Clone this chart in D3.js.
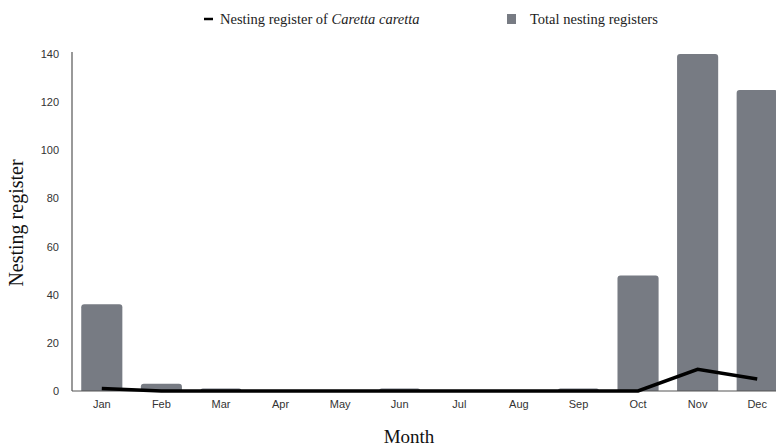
<!DOCTYPE html>
<html><head><meta charset="utf-8">
<script src="https://cdn.jsdelivr.net/npm/d3@7"></script>
<style>body{margin:0;background:#fff}svg{display:block}</style>
</head><body><svg id="c" width="776" height="447"></svg>
<script>
const months = ["Jan","Feb","Mar","Apr","May","Jun","Jul","Aug","Sep","Oct","Nov","Dec"];
const totalRegisters = [36,3,1,0,0,1,0,0,1,48,140,125];
const carettaRegisters = [1,0,0,0,0,0,0,0,0,0,9,5];
const yTicks = [0,20,40,60,80,100,120,140];

const svg = d3.select("#c");
const x = d3.scaleBand().domain(months).range([72, 787]).paddingInner(0.31).paddingOuter(0.155);
const y = d3.scaleLinear().domain([0,140]).range([391, 54]);

// bars with rounded top corners
function barPath(x0, y0, w, h, r) {
  r = Math.min(r, h, w/2);
  return `M${x0},${y0+h}V${y0+r}Q${x0},${y0} ${x0+r},${y0}H${x0+w-r}Q${x0+w},${y0} ${x0+w},${y0+r}V${y0+h}Z`;
}
svg.append("g").selectAll("path").data(months.map((m,i)=>({m, v: totalRegisters[i]})).filter(d=>d.v>0))
  .join("path")
  .attr("d", d => barPath(x(d.m), y(d.v), x.bandwidth(), y(0)-y(d.v), 3))
  .attr("fill", "#777b83");

// axes
const yAxis = d3.axisLeft(y).tickValues(yTicks).tickSize(0).tickPadding(13);
const gy = svg.append("g").attr("transform","translate(72,0)").call(yAxis);
gy.select(".domain").attr("d","M0,391V52").attr("stroke","#555").attr("stroke-width",1.2);
gy.selectAll("text").attr("font-family","Liberation Sans, Arial, sans-serif").attr("font-size",11).attr("fill","#333");

const xAxis = d3.axisBottom(x).tickSize(0).tickPadding(9);
const gx = svg.append("g").attr("transform","translate(0,391)").call(xAxis);
gx.select(".domain").attr("d","M72,0H776").attr("stroke","#555").attr("stroke-width",1.2);
gx.selectAll("text").attr("font-family","Liberation Sans, Arial, sans-serif").attr("font-size",11).attr("fill","#333");

// line
const line = d3.line().x((d,i)=>x(months[i])+x.bandwidth()/2).y(d=>y(d));
svg.append("path").datum(carettaRegisters).attr("d", line)
  .attr("fill","none").attr("stroke","#000").attr("stroke-width",3.5).attr("stroke-linejoin","miter");

// titles
svg.append("text").attr("transform","translate(23,223) rotate(-90)").attr("text-anchor","middle")
  .attr("font-family","Liberation Serif, Times New Roman, serif").attr("font-size",20).attr("fill","#111")
  .text("Nesting register");
svg.append("text").attr("x",409).attr("y",443).attr("text-anchor","middle")
  .attr("font-family","Liberation Serif, Times New Roman, serif").attr("font-size",19).attr("fill","#111")
  .text("Month");

// legend
const lg = svg.append("g").attr("font-family","Liberation Serif, Times New Roman, serif").attr("font-size",14.5).attr("fill","#222");
lg.append("line").attr("x1",204).attr("x2",213).attr("y1",19).attr("y2",19).attr("stroke","#000").attr("stroke-width",2.5);
const t1 = lg.append("text").attr("x",220).attr("y",24);
t1.append("tspan").text("Nesting register of ");
t1.append("tspan").attr("font-style","italic").text("Caretta caretta");
lg.append("rect").attr("x",507).attr("y",14).attr("width",9).attr("height",10).attr("fill","#777b83");
lg.append("text").attr("x",530).attr("y",24).text("Total nesting registers");
</script></body></html>
